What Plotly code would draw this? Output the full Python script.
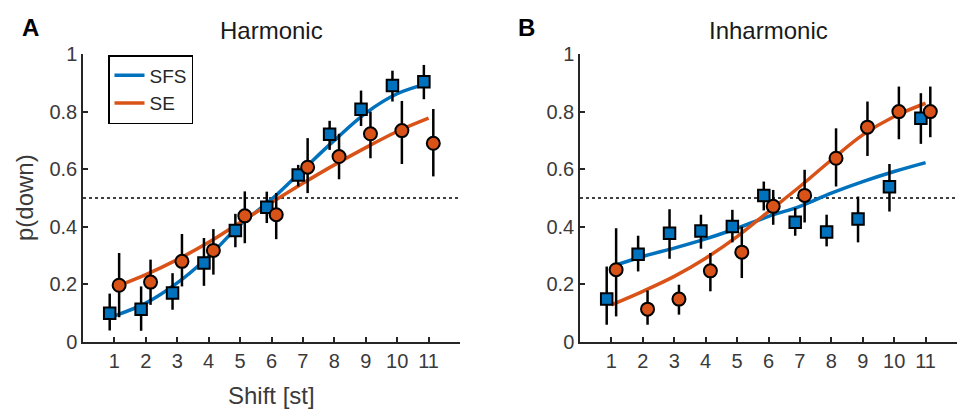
import plotly.graph_objects as go

# ---------------- data ----------------
shifts = [1, 2, 3, 4, 5, 6, 7, 8, 9, 10, 11]
tick_labels = ["1", "2", "3", "4", "5", "6", "7", "8", "9", "10", "11"]

# Panel A: Harmonic
harm_sfs = [0.100, 0.114, 0.170, 0.274, 0.387, 0.468, 0.580, 0.721, 0.808, 0.891, 0.904]
harm_sfs_hi = [0.168, 0.193, 0.239, 0.361, 0.445, 0.522, 0.615, 0.768, 0.873, 0.942, 0.962]
harm_sfs_lo = [0.040, 0.039, 0.112, 0.195, 0.329, 0.413, 0.540, 0.667, 0.750, 0.835, 0.843]
harm_se = [0.197, 0.208, 0.280, 0.318, 0.438, 0.442, 0.607, 0.644, 0.723, 0.734, 0.690]
harm_se_hi = [0.309, 0.286, 0.375, 0.392, 0.523, 0.517, 0.708, 0.723, 0.800, 0.837, 0.809]
harm_se_lo = [0.086, 0.129, 0.193, 0.234, 0.343, 0.357, 0.517, 0.565, 0.638, 0.618, 0.575]
harm_sfs_fit = [0.091, 0.135, 0.205, 0.297, 0.407, 0.495, 0.598, 0.700, 0.795, 0.862, 0.898]
harm_se_fit = [0.190, 0.234, 0.286, 0.346, 0.415, 0.484, 0.551, 0.615, 0.675, 0.731, 0.777]

# Panel B: Inharmonic
inh_sfs = [0.149, 0.305, 0.378, 0.385, 0.401, 0.509, 0.416, 0.382, 0.427, 0.539, 0.777]
inh_sfs_hi = [0.262, 0.369, 0.461, 0.442, 0.459, 0.557, 0.465, 0.442, 0.505, 0.618, 0.864]
inh_sfs_lo = [0.060, 0.245, 0.289, 0.324, 0.346, 0.457, 0.369, 0.332, 0.346, 0.453, 0.688]
inh_se = [0.251, 0.114, 0.149, 0.247, 0.312, 0.471, 0.509, 0.638, 0.746, 0.800, 0.800]
inh_se_hi = [0.395, 0.179, 0.199, 0.309, 0.401, 0.528, 0.598, 0.742, 0.835, 0.887, 0.887]
inh_se_lo = [0.089, 0.060, 0.095, 0.176, 0.222, 0.407, 0.415, 0.540, 0.646, 0.704, 0.711]
inh_sfs_fit = [0.262, 0.297, 0.326, 0.358, 0.395, 0.436, 0.471, 0.517, 0.557, 0.592, 0.623]
inh_se_fit = [0.129, 0.176, 0.228, 0.291, 0.366, 0.453, 0.540, 0.632, 0.719, 0.783, 0.829]

# ---------------- style ----------------
BLUE = "#0072BD"
ORANGE = "#D95319"
AX = "#262626"
FONT = "Liberation Sans, Arial, Helvetica, sans-serif"
OFF = 0.15
W, H = 959, 409

fig = go.Figure()

def add_panel(xa, ya, sfs, sfs_hi, sfs_lo, se, se_hi, se_lo, sfs_fit, se_fit, legend):
    fig.add_trace(go.Scatter(x=shifts, y=sfs_fit, mode="lines", line=dict(color=BLUE, width=3.5, shape="spline"),
                             name="SFS", showlegend=legend, xaxis=xa, yaxis=ya, hoverinfo="skip"))
    fig.add_trace(go.Scatter(x=shifts, y=se_fit, mode="lines", line=dict(color=ORANGE, width=3.5, shape="spline"),
                             name="SE", showlegend=legend, xaxis=xa, yaxis=ya, hoverinfo="skip"))
    fig.add_trace(go.Scatter(
        x=[s - OFF for s in shifts], y=sfs, mode="markers", showlegend=False, xaxis=xa, yaxis=ya,
        marker=dict(symbol="square", size=11.5, color=BLUE, line=dict(color="black", width=2)),
        error_y=dict(type="data", symmetric=False,
                     array=[h - v for h, v in zip(sfs_hi, sfs)],
                     arrayminus=[v - l for v, l in zip(sfs, sfs_lo)],
                     color="black", thickness=2.5, width=0)))
    fig.add_trace(go.Scatter(
        x=[s + OFF for s in shifts], y=se, mode="markers", showlegend=False, xaxis=xa, yaxis=ya,
        marker=dict(symbol="circle", size=13, color=ORANGE, line=dict(color="black", width=2)),
        error_y=dict(type="data", symmetric=False,
                     array=[h - v for h, v in zip(se_hi, se)],
                     arrayminus=[v - l for v, l in zip(se, se_lo)],
                     color="black", thickness=2.5, width=0)))

add_panel("x", "y", harm_sfs, harm_sfs_hi, harm_sfs_lo, harm_se, harm_se_hi, harm_se_lo,
          harm_sfs_fit, harm_se_fit, True)
add_panel("x2", "y2", inh_sfs, inh_sfs_hi, inh_sfs_lo, inh_se, inh_se_hi, inh_se_lo,
          inh_sfs_fit, inh_se_fit, False)

ydom = [(H - 342) / H, (H - 54) / H]
xdomA = [83 / W, 460 / W]
xdomB = [580 / W, 957 / W]

def xaxis(dom, anchor):
    return dict(domain=dom, anchor=anchor, range=[0, 12], tickvals=shifts, ticktext=tick_labels,
                ticks="inside", ticklen=5, tickwidth=1.5, tickcolor=AX, showline=True, linecolor=AX,
                linewidth=1.5, showgrid=False, zeroline=False, mirror=False, automargin=False,
                tickfont=dict(size=20, color="#3a3a3a", family=FONT))

def yaxis(anchor):
    return dict(domain=ydom, anchor=anchor, range=[0, 1], tickvals=[0, 0.2, 0.4, 0.6, 0.8, 1],
                ticktext=["0", "0.2", "0.4", "0.6", "0.8", "1"], automargin=False,
                ticks="inside", ticklen=5, tickwidth=1.5, tickcolor=AX, showline=True, linecolor=AX,
                linewidth=1.5, showgrid=False, zeroline=False,
                tickfont=dict(size=20, color="#3a3a3a", family=FONT))

# dotted reference lines at 0.5
for xr, yr in [("x", "y"), ("x2", "y2")]:
    fig.add_shape(type="line", xref=xr, yref=yr, x0=0, x1=12, y0=0.5, y1=0.5,
                  line=dict(color="black", width=1.5, dash="dot"), layer="below")

ann = [
    dict(text="<b>A</b>", x=30 / W, y=1 - 27 / H, font=dict(size=24, color="black")),
    dict(text="<b>B</b>", x=526 / W, y=1 - 27 / H, font=dict(size=24, color="black")),
    dict(text="Harmonic", x=271.5 / W, y=1 - 31 / H, font=dict(size=24, color="#1a1a1a")),
    dict(text="Inharmonic", x=768.5 / W, y=1 - 31 / H, font=dict(size=24, color="#1a1a1a")),
    dict(text="Shift [st]", x=271.5 / W, y=1 - 395 / H, font=dict(size=24, color="#3a3a3a")),
    dict(text="p(down)", x=24 / W, y=1 - 198 / H, textangle=-90, font=dict(size=24, color="#3a3a3a")),
]
for a in ann:
    a.update(xref="paper", yref="paper", showarrow=False, xanchor="center", yanchor="middle")
    a["font"]["family"] = FONT

fig.update_layout(
    width=W, height=H, margin=dict(l=0, r=0, t=0, b=0, pad=0, autoexpand=False),
    paper_bgcolor="white", plot_bgcolor="white",
    font=dict(family=FONT, color=AX),
    xaxis=xaxis(xdomA, "y"), yaxis=yaxis("x"),
    xaxis2=xaxis(xdomB, "y2"), yaxis2=yaxis("x2"),
    annotations=ann,
    legend=dict(x=108 / W, y=1 - 55 / H, xanchor="left", yanchor="top",
                bordercolor="black", borderwidth=1.5, bgcolor="white",
                font=dict(size=19, color="#262626", family=FONT),
                itemwidth=30, tracegroupgap=0),
)

fig.write_html("out.html", config={"displayModeBar": False},
               post_script="document.body.style.margin='0';document.body.style.overflow='hidden';")
